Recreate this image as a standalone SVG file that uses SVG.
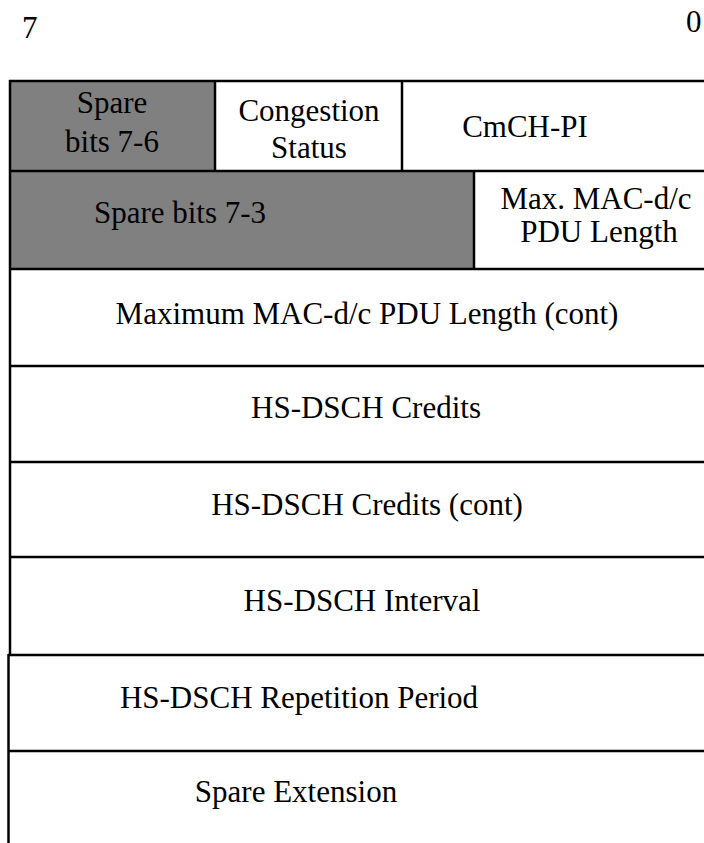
<svg xmlns="http://www.w3.org/2000/svg" width="704" height="843" viewBox="0 0 704 843">
<style>
  text { font-family: 'Liberation Serif', 'Tinos', 'Times New Roman', Times, 'DejaVu Serif', serif; font-size: 31px; fill: #000; }
  .c { text-anchor: middle; }
  .ln { stroke: #000; stroke-width: 2.5; fill: none; }
  .gray { fill: #808080; }
</style>
<rect x="0" y="0" width="704" height="843" fill="#fff"/>
<g id="bit-labels">
  <text x="22" y="38">7</text>
  <text x="686" y="32">0</text>
</g>
<g id="spare-bits-7-6">
  <rect class="gray" x="10" y="81" width="205" height="90"/>
  <text class="c" x="112" y="113">Spare</text>
  <text class="c" x="112" y="152">bits 7-6</text>
</g>
<g id="congestion-status">
  <text class="c" x="309" y="121">Congestion</text>
  <text class="c" x="309" y="158">Status</text>
</g>
<g id="cmch-pi">
  <text class="c" x="525" y="137">CmCH-PI</text>
</g>
<g id="spare-bits-7-3">
  <rect class="gray" x="10" y="171" width="464" height="98"/>
  <text class="c" x="180" y="223">Spare bits 7-3</text>
</g>
<g id="max-mac-pdu-length">
  <text class="c" x="596" y="209">Max. MAC-d/c</text>
  <text class="c" x="599" y="242">PDU Length</text>
</g>
<g id="max-mac-pdu-length-cont">
  <text class="c" x="367" y="324">Maximum MAC-d/c PDU Length (cont)</text>
</g>
<g id="hs-dsch-credits">
  <text class="c" x="366" y="418">HS-DSCH Credits</text>
</g>
<g id="hs-dsch-credits-cont">
  <text class="c" x="367" y="515">HS-DSCH Credits (cont)</text>
</g>
<g id="hs-dsch-interval">
  <text class="c" x="362" y="611">HS-DSCH Interval</text>
</g>
<g id="hs-dsch-repetition-period">
  <text class="c" x="299" y="708">HS-DSCH Repetition Period</text>
</g>
<g id="spare-extension">
  <text class="c" x="296" y="802">Spare Extension</text>
</g>
<g id="connectors">
  <line class="ln" x1="9" y1="81" x2="704" y2="81"/>
  <line class="ln" x1="9" y1="171" x2="704" y2="171"/>
  <line class="ln" x1="9" y1="269" x2="704" y2="269"/>
  <line class="ln" x1="9" y1="366" x2="704" y2="366"/>
  <line class="ln" x1="9" y1="462" x2="704" y2="462"/>
  <line class="ln" x1="9" y1="557" x2="704" y2="557"/>
  <line class="ln" x1="8" y1="655" x2="704" y2="655"/>
  <line class="ln" x1="8" y1="751" x2="704" y2="751"/>
  <line class="ln" x1="10" y1="80" x2="10" y2="656"/>
  <line class="ln" x1="8.5" y1="654" x2="8.5" y2="843"/>
  <line class="ln" x1="215" y1="81" x2="215" y2="171"/>
  <line class="ln" x1="402" y1="81" x2="402" y2="171"/>
  <line class="ln" x1="474" y1="171" x2="474" y2="269"/>
</g>
</svg>
